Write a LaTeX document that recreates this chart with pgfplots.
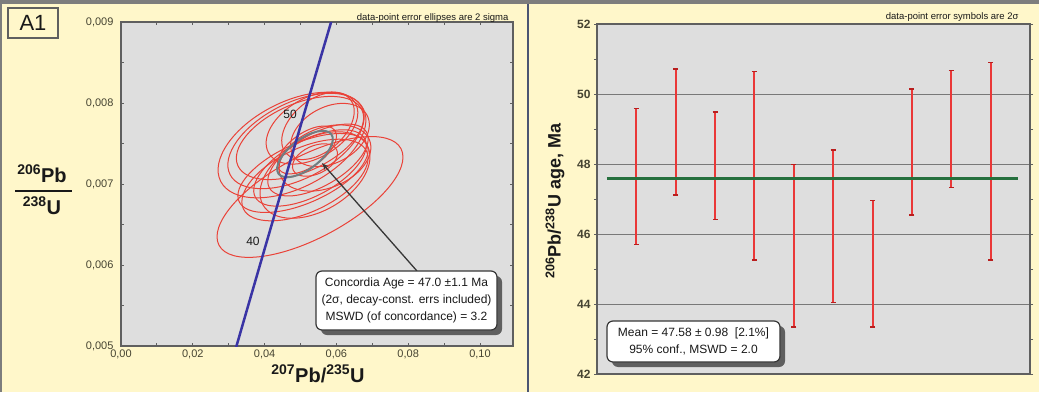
\documentclass[border=0pt]{standalone}
\usepackage{pgfplots}
\usepackage{pgfplotstable}
\pgfplotsset{compat=1.18}
\usepackage{fontspec}
\setmainfont{Liberation Sans}
\usetikzlibrary{arrows.meta}

\definecolor{panelbg}{RGB}{255,247,202}
\definecolor{plotbg}{RGB}{222,222,222}
\definecolor{framegray}{RGB}{95,95,95}
\definecolor{bordergray}{RGB}{125,125,125}
\definecolor{divider}{RGB}{75,85,115}
\definecolor{ellred}{RGB}{234,66,56}
\definecolor{concblue}{RGB}{58,52,165}
\definecolor{ageell}{RGB}{112,126,130}
\definecolor{arrowgray}{RGB}{55,55,55}
\definecolor{barred}{RGB}{234,56,56}
\definecolor{capred}{RGB}{185,30,30}
\definecolor{meangreen}{RGB}{38,112,62}
\definecolor{gridgray}{RGB}{120,120,120}
\definecolor{ticktext}{RGB}{70,68,50}
\definecolor{labeltext}{RGB}{25,25,25}

\newcommand\fs[2]{\fontsize{#1}{#2}\selectfont}

% concordia curve: (207Pb/235U, 206Pb/238U) at 30, 35, ..., 60 Ma
\pgfplotstableread{
x y
0.029986 0.0046646
0.035071 0.0054441
0.040180 0.0062243
0.045315 0.0070050
0.050475 0.0077863
0.055660 0.0085683
0.060871 0.0093508
}\concordia

% single-grain 206Pb/238U ages (Ma) with 2-sigma errors
\pgfplotstableread{
n age err
1 47.645 1.945
2 48.915 1.795
3 47.955 1.535
4 47.955 2.695
5 45.660 2.320
6 46.220 2.180
7 45.145 1.805
8 48.340 1.800
9 49.000 1.670
10 48.080 2.820
}\agedata

\begin{document}
\begin{tikzpicture}[x=1pt,y=1pt]
\useasboundingbox (0,0) rectangle (1039,392);
\fill[panelbg] (0,0) rectangle (1039,392);
\fill[bordergray] (0,388) rectangle (1039,392);
\fill[bordergray] (0,0) rectangle (2,392);
\fill[divider] (527,0) rectangle (529,388);

% ---------------- concordia diagram ----------------
\begin{axis}[
  at={(121pt,46pt)}, anchor=south west,
  scale only axis, width=392pt, height=324pt,
  xmin=0, xmax=0.1092, ymin=0.005, ymax=0.009,
  axis background/.style={fill=plotbg},
  axis line style={framegray, line width=1.2pt},
  scaled x ticks=false, scaled y ticks=false,
  xtick={0,0.02,0.04,0.06,0.08,0.10},
  minor xtick={0.01,0.03,0.05,0.07,0.09},
  ytick={0.005,0.006,0.007,0.008,0.009},
  minor ytick={0.0055,0.0065,0.0075,0.0085},
  tick align=inside,
  major tick length=3pt, minor tick length=3pt,
  tick style={framegray, line width=0.8pt},
  tick label style={font=\fs{11}{13}, text=ticktext},
  xticklabel style={/pgf/number format/.cd, fixed, fixed zerofill, precision=2, use comma, assume math mode=true},
  yticklabel style={xshift=-4pt, /pgf/number format/.cd, fixed, fixed zerofill, precision=3, use comma, assume math mode=true},
]
% individual analysis error ellipses (2 sigma)
\draw[ellred, line width=1pt] (axis cs:0.05265,0.006840) circle[x radius=103pt, y radius=41pt, rotate=28];
\draw[ellred, line width=1pt] (axis cs:0.04763,0.007481) circle[x radius=80pt, y radius=43pt, rotate=27];
\draw[ellred, line width=1pt] (axis cs:0.04875,0.007531) circle[x radius=74pt, y radius=38pt, rotate=27];
\draw[ellred, line width=1pt] (axis cs:0.04986,0.007568) circle[x radius=68pt, y radius=34pt, rotate=24];
\draw[ellred, line width=1pt] (axis cs:0.05320,0.007691) circle[x radius=50pt, y radius=30pt, rotate=30];
\draw[ellred, line width=1pt] (axis cs:0.05487,0.007716) circle[x radius=42pt, y radius=26pt, rotate=40];
\draw[ellred, line width=1pt] (axis cs:0.05822,0.007605) circle[x radius=42pt, y radius=28pt, rotate=28];
\draw[ellred, line width=1pt] (axis cs:0.05070,0.007136) circle[x radius=70pt, y radius=30pt, rotate=24];
\draw[ellred, line width=1pt] (axis cs:0.05125,0.007049) circle[x radius=68pt, y radius=32pt, rotate=25];
\draw[ellred, line width=1pt] (axis cs:0.05404,0.007111) circle[x radius=60pt, y radius=36pt, rotate=30];
\draw[ellred, line width=1pt] (axis cs:0.05265,0.007198) circle[x radius=62pt, y radius=28pt, rotate=28];
\draw[ellred, line width=1pt] (axis cs:0.05487,0.007296) circle[x radius=56pt, y radius=26pt, rotate=30];
\draw[ellred, line width=1pt] (axis cs:0.05682,0.007321) circle[x radius=48pt, y radius=30pt, rotate=22];
\draw[ellred, line width=1pt] (axis cs:0.05404,0.007296) circle[x radius=24pt, y radius=14pt, rotate=25];
\draw[ellred, line width=1pt] (axis cs:0.05181,0.007420) circle[x radius=34pt, y radius=17pt, rotate=35];
% concordia age ellipse
\draw[ageell, line width=2pt] (axis cs:0.05125,0.007370) circle[x radius=33pt, y radius=15pt, rotate=37];
% concordia curve
\addplot[concblue, line width=2.5pt] table[x=x, y=y] {\concordia};
\node[font=\fs{12}{14}, text=labeltext] at (axis cs:0.04708,0.007864) {50};
\node[font=\fs{12}{14}, text=labeltext] at (axis cs:0.03677,0.006296) {40};
% pointer from the result box to the age ellipse
\draw[arrowgray, line width=1.3pt, -{Stealth[length=7pt, width=5pt]}] (axis cs:0.08245,0.005926) -- (axis cs:0.05599,0.007259);
\end{axis}

% ---------------- weighted mean plot ----------------
\begin{axis}[
  at={(597pt,18pt)}, anchor=south west,
  scale only axis, width=433pt, height=350pt,
  xmin=0, xmax=11, ymin=42, ymax=52,
  axis background/.style={fill=plotbg},
  axis line style={framegray, line width=1.2pt},
  xtick=\empty,
  ytick={42,44,46,48,50,52},
  minor ytick={43,45,47,49,51},
  ymajorgrids, grid style={gridgray, line width=0.7pt},
  tick align=outside,
  major tick length=3pt, minor tick length=3pt,
  tick style={framegray, line width=0.8pt},
  tick label style={font=\bfseries\fs{12}{14}, text=ticktext},
  yticklabel style={/pgf/number format/assume math mode=true},
]
\addplot[draw=none, mark=none,
  error bars/.cd, y dir=both, y explicit,
  error bar style={draw=barred, line width=2pt},
  error mark options={draw=capred, rotate=90, mark size=2.5pt, line width=1.4pt}]
  table[x=n, y=age, y error=err] {\agedata};
\addplot[meangreen, line width=3.5pt] coordinates {(0.25,47.58) (10.7,47.58)};
\end{axis}

% ---------------- annotations ----------------
\node[draw=framegray, line width=1.2pt, fill=panelbg, minimum width=50pt, minimum height=30pt, inner sep=0pt, font=\fs{22}{24}, text=labeltext] at (33,369) {A1};

\node[anchor=base east, font=\fs{9.5}{11}, text=labeltext] at (512,371) {data-point error ellipses are 2 sigma};
\node[anchor=base east, font=\fs{9.5}{11}, text=labeltext] at (1022,372) {data-point error symbols are 2σ};

% y label of the concordia diagram as a fraction
\node[anchor=base, font=\bfseries\fs{20}{22}, text=labeltext] at (42,210) {\textsuperscript{206}Pb};
\draw[labeltext, line width=1.8pt] (15,201) -- (72,201);
\node[anchor=base, font=\bfseries\fs{20}{22}, text=labeltext] at (42,178) {\textsuperscript{238}U};
\node[anchor=base, font=\bfseries\fs{20}{22}, text=labeltext] at (318,10) {\textsuperscript{207}Pb/\textsuperscript{235}U};

\node[rotate=90, font=\bfseries\fs{18}{20}, text=labeltext] at (555,191) {\textsuperscript{206}Pb/\textsuperscript{238}U age, Ma};

% result boxes with drop shadows
\fill[rounded corners=6pt, framegray] (321,57) rectangle (502,116);
\draw[rounded corners=6pt, fill=white, draw=arrowgray, line width=1.2pt] (316,62) rectangle (497,121);
\node[align=center, font=\fs{12}{16.7}, text=labeltext] at (406.5,91.5) {Concordia Age = 47.0 ±1.1 Ma\\(2σ, decay-const. errs included)\\MSWD (of concordance) = 3.2};

\fill[rounded corners=6pt, framegray] (612,25) rectangle (785,66);
\draw[rounded corners=6pt, fill=white, draw=arrowgray, line width=1.2pt] (607,30) rectangle (780,71);
\node[align=center, font=\fs{12}{16.7}, text=labeltext] at (693.5,50.5) {Mean = 47.58 ± 0.98\ \ [2.1\%]\\95\% conf., MSWD = 2.0};
\end{tikzpicture}
\end{document}
